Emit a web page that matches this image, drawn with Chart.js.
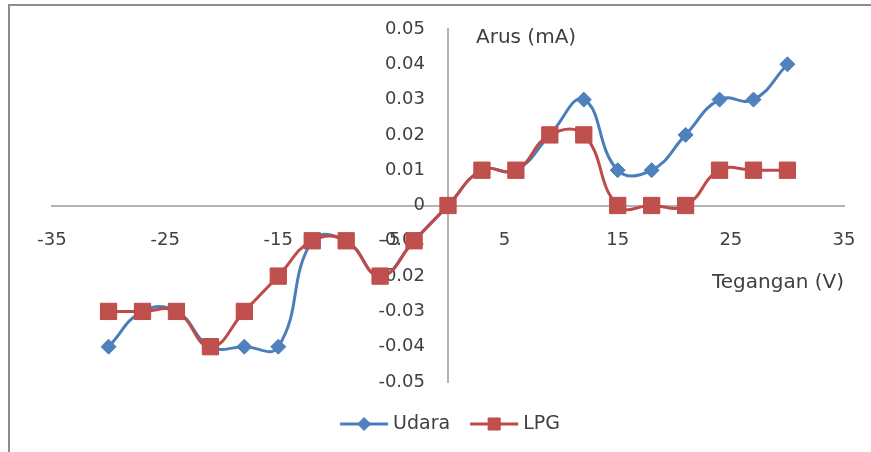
<!DOCTYPE html>
<html>
<head>
<meta charset="utf-8">
<script src="https://cdn.jsdelivr.net/npm/chart.js@4/dist/chart.umd.min.js"></script>
<style>
  html, body { margin: 0; padding: 0; background: #fff; }
  #wrap { width: 871px; height: 452px; position: relative; }
</style>
</head>
<body>
<div id="wrap"><canvas id="ivChart" width="871" height="452"></canvas></div>
<script>
// Tegangan (V) vs arus (mA)
const tegangan = [-30, -27, -24, -21, -18, -15, -12, -9, -6, -3, 0, 3, 6, 9, 12, 15, 18, 21, 24, 27, 30];
const arusUdara = [-0.04, -0.03, -0.03, -0.04, -0.04, -0.04, -0.01, -0.01, -0.02, -0.01, 0, 0.01, 0.01, 0.02, 0.03, 0.01, 0.01, 0.02, 0.03, 0.03, 0.04];
const arusLPG = [-0.03, -0.03, -0.03, -0.04, -0.03, -0.02, -0.01, -0.01, -0.02, -0.01, 0, 0.01, 0.01, 0.02, 0.02, 0, 0, 0, 0.01, 0.01, 0.01];
const xTicks = [-35, -25, -15, -5, 5, 15, 25, 35];
const yTicks = [-0.05, -0.04, -0.03, -0.02, -0.01, 0, 0.01, 0.02, 0.03, 0.04, 0.05];
const yLabels = ['-0.05', '-0.04', '-0.03', '-0.02', '-0.01', '0', '0.01', '0.02', '0.03', '0.04', '0.05'];

const FONT = 'DejaVu Sans';
const TEXT = '#404040';
const AXIS = '#b3b3b3';

function toPoints(xs, ys) {
  return xs.map((x, i) => ({ x: x, y: ys[i] }));
}

// frame, axis titles and legend
const extras = {
  id: 'extras',
  afterDraw(chart) {
    const ctx = chart.ctx;
    ctx.save();

    // outer frame (top and left edges only)
    ctx.strokeStyle = '#8c8c8c';
    ctx.lineWidth = 2;
    ctx.beginPath();
    ctx.moveTo(9, 452);
    ctx.lineTo(9, 5);
    ctx.lineTo(871, 5);
    ctx.stroke();

    ctx.fillStyle = TEXT;
    ctx.font = '20px "' + FONT + '"';
    ctx.textBaseline = 'middle';
    ctx.textAlign = 'left';
    ctx.fillText('Arus (mA)', 476, 38);
    ctx.fillText('Tegangan (V)', 712, 283);

    // legend
    ctx.font = '19px "' + FONT + '"';
    const y = 424;
    const items = chart.data.datasets.map(ds => ({ ds, w: 48 + 5 + ctx.measureText(ds.label).width }));
    const gap = 20;
    const total = items.reduce((s, it) => s + it.w, 0) + gap * (items.length - 1);
    let x = 450 - total / 2;
    items.forEach(it => {
      const ds = it.ds;
      ctx.strokeStyle = ds.borderColor;
      ctx.lineWidth = 3;
      ctx.beginPath();
      ctx.moveTo(x, y);
      ctx.lineTo(x + 48, y);
      ctx.stroke();
      ctx.fillStyle = ds.pointBackgroundColor;
      ctx.strokeStyle = ds.pointBorderColor;
      ctx.lineWidth = 1;
      Chart.helpers.drawPoint(ctx, {
        pointStyle: ds.pointStyle,
        radius: ds.pointStyle === 'rect' ? 8.5 : 6.5,
        rotation: 0,
        borderWidth: 1
      }, x + 24, y);
      ctx.fillStyle = TEXT;
      ctx.fillText(ds.label, x + 53, y);
      x += it.w + gap;
    });
    ctx.restore();
  }
};

new Chart(document.getElementById('ivChart'), {
  type: 'scatter',
  data: {
    datasets: [
      {
        label: 'Udara',
        data: toPoints(tegangan, arusUdara),
        showLine: true,
        borderColor: '#4a7ebb',
        borderWidth: 3,
        tension: 0.45,
        pointStyle: 'rectRot',
        pointRadius: 7.5,
        pointBackgroundColor: '#4f81bd',
        pointBorderColor: '#4a7ebb',
        pointBorderWidth: 1,
        order: 1
      },
      {
        label: 'LPG',
        data: toPoints(tegangan, arusLPG),
        showLine: true,
        borderColor: '#be4b48',
        borderWidth: 3,
        tension: 0.45,
        pointStyle: 'rect',
        pointRadius: 11.5,
        pointBackgroundColor: '#c0504d',
        pointBorderColor: '#be4b48',
        pointBorderWidth: 1,
        order: 0
      }
    ]
  },
  options: {
    responsive: false,
    animation: false,
    layout: { padding: { left: 52, right: 27, top: 29, bottom: 70 } },
    plugins: {
      legend: { display: false },
      tooltip: { enabled: false }
    },
    scales: {
      x: {
        type: 'linear',
        position: 'center',
        min: -35,
        max: 35,
        afterBuildTicks: scale => { scale.ticks = xTicks.map(v => ({ value: v })); },
        // tick marks stay hidden, tickLength only pushes the labels off the axis
        grid: { display: false, drawTicks: true, tickLength: 24 },
        border: { display: true, color: AXIS, width: 2 },
        ticks: {
          padding: 0,
          color: TEXT,
          font: { family: FONT, size: 18 },
          maxRotation: 0,
          autoSkip: false
        }
      },
      y: {
        type: 'linear',
        position: 'center',
        min: -0.05,
        max: 0.05,
        afterBuildTicks: scale => { scale.ticks = yTicks.map(v => ({ value: v })); },
        grid: { display: false, drawTicks: true, tickLength: 23 },
        border: { display: true, color: AXIS, width: 2 },
        ticks: {
          padding: 0,
          color: TEXT,
          font: { family: FONT, size: 18 },
          autoSkip: false,
          callback: (v, i) => yLabels[i]
        }
      }
    }
  },
  plugins: [extras]
});
</script>
</body>
</html>
